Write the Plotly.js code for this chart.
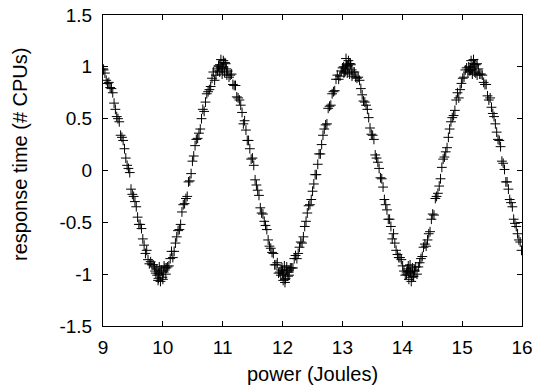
<!DOCTYPE html>
<html>
<head>
<meta charset="utf-8">
<script src="https://cdn.plot.ly/plotly-3.0.1.min.js"></script>
<style>html,body{margin:0;padding:0;background:#fff;}#chart{width:536px;height:391px;}</style>
</head>
<body>
<div id="chart"></div>
<script>
// Strand A
const powerA = [9.003,9.032,9.076,9.119,9.163,9.207,9.250,9.294,9.337,9.381,9.425,9.468,9.512,9.556,9.599,9.643,9.687,9.730,9.774,9.817,9.861,9.905,9.948,9.992,10.036,10.079,10.123,10.167,10.210,10.254,10.297,10.341,10.385,10.428,10.472,10.516,10.559,10.603,10.646,10.690,10.734,10.777,10.821,10.865,10.908,10.952,10.996,11.039,11.083,
11.126,11.170,11.214,11.257,11.301,11.345,11.388,11.432,11.475,11.519,11.563,11.606,11.650,11.694,11.737,11.781,11.824,11.868,11.912,11.955,11.999,12.043,12.086,12.130,12.173,12.217,12.261,12.304,12.348,12.392,12.435,12.479,12.522,12.566,12.610,12.653,12.697,12.741,12.784,12.828,12.871,12.915,12.959,13.002,13.046,13.090,13.133,13.177,
13.221,13.264,13.308,13.352,13.395,13.439,13.483,13.526,13.570,13.613,13.657,13.701,13.744,13.788,13.832,13.875,13.919,13.962,14.006,14.050,14.093,14.137,14.181,14.224,14.268,14.312,14.355,14.399,14.442,14.486,14.530,14.573,14.617,14.661,14.704,14.748,14.791,14.835,14.879,14.922,14.966,15.010,15.053,15.097,15.140,15.184,15.228,15.271,
15.315,15.359,15.402,15.446,15.490,15.533,15.577,15.621,15.664,15.708,15.751,15.795,15.839,15.882,15.926,15.970];
const responseA = [0.98,0.94,0.84,0.80,0.75,0.59,0.50,0.34,0.29,0.12,0.02,-0.18,-0.25,-0.35,-0.52,-0.56,-0.72,-0.77,-0.90,-0.91,-0.93,-1.01,-1.00,-1.03,-0.94,-0.93,-0.85,-0.84,-0.70,-0.58,-0.52,-0.33,-0.27,-0.11,-0.03,0.14,0.30,0.36,0.50,0.57,0.74,0.78,0.89,0.87,0.98,1.02,0.98,1.04,0.96,
0.92,0.83,0.82,0.70,0.63,0.45,0.39,0.29,0.11,0.05,-0.14,-0.24,-0.41,-0.49,-0.57,-0.73,-0.79,-0.91,-0.89,-0.98,-0.97,-1.05,-0.98,-0.94,-0.94,-0.82,-0.80,-0.69,-0.64,-0.49,-0.34,-0.28,-0.13,-0.04,0.16,0.25,0.40,0.45,0.62,0.74,0.77,0.92,0.91,0.99,0.96,1.01,1.03,0.95,
0.90,0.90,0.79,0.67,0.63,0.51,0.35,0.30,0.12,0.02,-0.08,-0.28,-0.38,-0.47,-0.66,-0.70,-0.81,-0.84,-0.92,-1.01,-0.97,-0.99,-1.02,-0.93,-0.93,-0.85,-0.74,-0.73,-0.61,-0.47,-0.43,-0.25,-0.15,0.03,0.13,0.22,0.40,0.51,0.58,0.75,0.78,0.89,0.97,0.95,0.99,1.03,0.94,0.98,
0.93,0.85,0.83,0.68,0.61,0.52,0.37,0.29,0.09,0.01,-0.11,-0.28,-0.35,-0.51,-0.61,-0.69];

// Strand B
const powerB = [9.010,9.054,9.098,9.141,9.185,9.229,9.272,9.316,9.359,9.403,9.447,9.490,9.534,9.578,9.621,9.665,9.709,9.752,9.796,9.839,9.883,9.927,9.970,10.014,10.058,10.101,10.145,10.189,10.232,10.276,10.319,10.363,10.407,10.450,10.494,10.538,10.581,10.625,10.668,10.712,10.756,10.799,10.843,10.887,10.930,10.974,11.018,11.061,11.105,
11.148,11.192,11.235,11.279,11.323,11.366,11.410,11.453,11.497,11.541,11.584,11.628,11.672,11.715,11.759,11.803,11.846,11.890,11.933,11.977,12.021,12.064,12.108,12.152,12.195,12.239,12.283,12.326,12.370,12.413,12.457,12.501,12.544,12.588,12.632,12.675,12.719,12.762,12.806,12.850,12.893,12.937,12.981,13.024,13.068,13.112,13.155,13.199,
13.243,13.286,13.330,13.374,13.417,13.461,13.505,13.548,13.592,13.635,13.679,13.723,13.766,13.810,13.854,13.897,13.941,13.984,14.028,14.072,14.115,14.159,14.203,14.246,14.290,14.334,14.377,14.421,14.464,14.508,14.552,14.595,14.639,14.683,14.726,14.770,14.813,14.857,14.901,14.944,14.988,15.032,15.075,15.119,15.162,15.206,15.250,15.293,
15.337,15.381,15.424,15.468,15.512,15.555,15.599,15.642,15.686,15.730,15.773,15.817,15.861,15.904,15.948,15.992];
const responseB = [0.97,0.87,0.85,0.79,0.65,0.52,0.47,0.32,0.21,0.05,-0.02,-0.23,-0.30,-0.45,-0.52,-0.66,-0.80,-0.86,-0.88,-0.91,-0.99,-1.04,-0.97,-0.98,-0.94,-0.92,-0.78,-0.78,-0.64,-0.57,-0.40,-0.32,-0.25,-0.10,0.09,0.24,0.31,0.40,0.59,0.66,0.76,0.81,0.95,0.92,1.00,0.99,1.04,0.98,0.90,
0.93,0.82,0.71,0.68,0.56,0.48,0.29,0.21,0.12,-0.09,-0.19,-0.36,-0.42,-0.53,-0.67,-0.75,-0.80,-0.91,-0.99,-0.96,-1.00,-0.96,-1.01,-0.94,-0.85,-0.85,-0.74,-0.70,-0.54,-0.41,-0.33,-0.20,-0.04,0.06,0.16,0.34,0.44,0.60,0.63,0.76,0.88,0.88,0.96,0.94,1.02,1.03,0.97,0.95,
0.89,0.87,0.73,0.66,0.59,0.41,0.34,0.15,0.08,-0.07,-0.16,-0.33,-0.47,-0.54,-0.61,-0.77,-0.84,-0.86,-0.97,-0.98,-0.97,-1.03,-0.96,-1.00,-0.89,-0.83,-0.71,-0.67,-0.59,-0.42,-0.27,-0.22,-0.08,0.11,0.18,0.32,0.47,0.53,0.68,0.70,0.84,0.90,0.99,0.97,0.97,1.02,1.03,0.93,
0.92,0.83,0.72,0.70,0.55,0.45,0.30,0.23,0.07,-0.11,-0.18,-0.31,-0.47,-0.54,-0.67,-0.77];

// Extra points clustered at the peaks and troughs
const powerC = [9.90,9.92,9.94,9.96,9.98,10.00,10.02,9.87,10.05,9.93,
10.95,10.97,10.99,11.01,11.03,11.05,10.93,11.07,11.00,10.91,
11.99,12.01,12.03,12.05,12.07,12.09,11.97,12.11,12.04,12.00,
13.04,13.06,13.08,13.10,13.12,13.14,13.02,13.16,13.09,13.05,
14.09,14.11,14.13,14.15,14.17,14.19,14.07,14.21,14.14,14.10,
15.13,15.15,15.17,15.19,15.21,15.23,15.11,15.25,15.18,15.14];
const responseC = [-0.95,-1.06,-0.93,-1.07,-0.96,-1.05,-0.92,-0.97,-1.00,-0.99,
0.95,1.07,0.93,1.06,0.95,1.03,1.01,0.92,1.00,0.96,
-0.94,-1.06,-0.92,-1.04,-0.93,-1.02,-1.01,-0.96,-1.08,-0.99,
0.95,1.08,0.94,1.06,0.93,1.02,1.00,0.91,1.01,0.98,
-0.95,-1.05,-0.91,-1.07,-0.94,-1.02,-1.00,-0.97,-0.98,-0.92,
0.96,1.06,0.93,1.07,0.95,1.02,1.00,0.92,1.00,0.97];

const xTickVals = [9,10,11,12,13,14,15,16];
const xTickText = ["9","10","11","12","13","14","15","16"];
const yTickVals = [-1.5,-1,-0.5,0,0.5,1,1.5];
const yTickText = ["-1.5","-1","-0.5","0","0.5","1","1.5"];
const xTitle = 'power (Joules)';
const yTitle = 'response time (# CPUs)';

const marker = {symbol:'cross-thin-open', size:7, color:'#000', line:{width:1, color:'#000'}};
const traces = [
  {x: powerA, y: responseA, type:'scatter', mode:'markers', marker: marker, showlegend:false},
  {x: powerB, y: responseB, type:'scatter', mode:'markers', marker: marker, showlegend:false},
  {x: powerC, y: responseC, type:'scatter', mode:'markers', marker: marker, showlegend:false}
];

const fam = '"Liberation Sans", Arial, sans-serif';
const font = {family:fam, size:20, color:'#000'};
const tickFont = {family:fam, size:19, color:'#000'};
const layout = {
  width:536, height:391,
  margin:{l:103, r:14, t:15, b:65, pad:0},
  paper_bgcolor:'#fff', plot_bgcolor:'#fff',
  font: font,
  showlegend:false,
  xaxis:{
    range:[9,16], tickmode:'array', tickvals:xTickVals, ticktext:xTickText,
    ticks:'inside', ticklen:5, tickwidth:1, tickcolor:'#000',
    showline:true, linecolor:'#000', linewidth:1, mirror:'ticks',
    showgrid:false, zeroline:false, tickfont:tickFont, ticklabelstandoff:4,
    title:{text:xTitle, font:font, standoff:10}
  },
  yaxis:{
    range:[-1.5,1.5], tickmode:'array', tickvals:yTickVals, ticktext:yTickText,
    ticks:'inside', ticklen:5, tickwidth:1, tickcolor:'#000',
    showline:true, linecolor:'#000', linewidth:1, mirror:'ticks',
    showgrid:false, zeroline:false, tickfont:tickFont, ticklabelstandoff:6
  },
  annotations:[{
    text:yTitle, textangle:-90, font:font, showarrow:false,
    xref:'paper', yref:'paper', x:0, y:0.55, xanchor:'center', yanchor:'middle', xshift:-83
  }]
};
Plotly.newPlot('chart', traces, layout, {staticPlot:true, displayModeBar:false});
</script>
</body>
</html>
